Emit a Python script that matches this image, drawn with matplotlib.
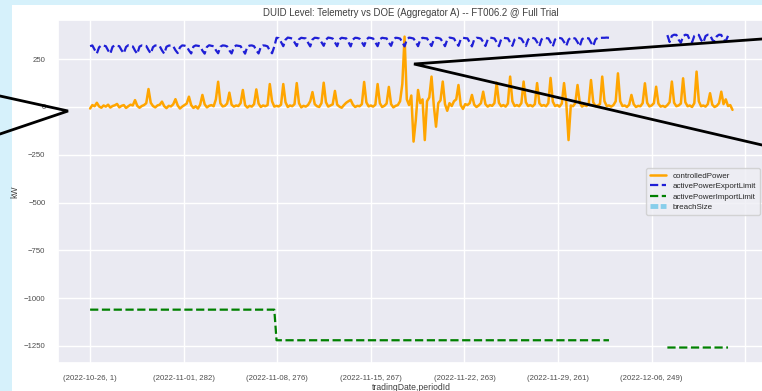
import numpy as np
import matplotlib
matplotlib.use("Agg")
import matplotlib.pyplot as plt
import seaborn as sns
from matplotlib.lines import Line2D
from matplotlib.patches import Rectangle

# one sample every 48 five-minute periods (4 hours)
periods_per_sample = 48

power_kw = [
    -8, 10, 4, 22, 3, -4, 8, 2, 12, -3, 5, 9,
    16, -2, 6, 10, -5, 4, 12, 8, 36, 6, -4, 5,
    10, 20, 94, 22, 5, -2, 8, 12, 28, 4, -6, 6,
    3, 14, 41, 8, -8, 2, 10, 18, 54, 10, -5, 4,
    -8, 12, 63, 14, -2, 6, 10, 4, 40, 132, 20, 3,
    6, 18, 75, 12, 2, 8, 5, 20, 89, 10, -3, 6,
    2, 15, 92, 18, 0, 8, 4, 10, 120, 30, 2, 6,
    3, 12, 120, 25, 0, 8, 4, 15, 125, 20, -2, 6,
    2, 10, 30, 78, 15, 4, 0, 20, 127, 25, 2, 8,
    14, 84, 12, 2, -4, 10, 22, 30, 37, 12, 0, 6,
    4, 15, 131, 24, 3, 8, 2, 12, 120, 20, 0, 6,
    18, 105, 15, -2, 6, 10, 30, 120, 368, 40, 10, 60,
    -181, -68, 89, 20, 40, -173, 30, 50, 159, 10, -103, 20,
    35, 133, 15, -20, 20, 5, 30, 40, 115, 10, -10, 15,
    10, 20, 63, 12, 0, 8, 20, 80, 15, 2, 10, 6,
    20, 127, 22, 4, 10, 2, 18, 159, 30, 5, 10, 4,
    20, 133, 25, 5, 10, 3, 15, 125, 20, 6, 10, 4,
    20, 152, 28, 5, 10, 2, 18, 125, 20, -173, 8, 4,
    20, 115, 22, 2, 10, 5, 18, 141, 25, 4, 8, 15,
    159, 30, 5, 8, 2, 10, 30, 176, 30, 5, 8, 0,
    12, 63, 15, 0, 6, 4, 20, 124, 22, 3, 8, 20,
    106, 18, 2, 6, 0, 10, 25, 133, 22, 4, 8, 18,
    150, 25, 4, 8, 0, 20, 185, 30, 4, 8, 2, 15,
    72, 12, 0, 6, 20, 80, 15, 40, 5, 10, -15,
]

nan = np.nan
export_kw = [
    318, 322, 300, 280, 312, 322, 321, 318, 296, 279, 315, 322,
    320, 318, 297, 281, 314, 323, 321, 317, 295, 278, 316, 322,
    320, 319, 298, 280, 313, 322, 320, 318, 296, 279, 315, 321,
    322, 318, 297, 282, 312, 322, 321, 317, 296, 280, 316, 322,
    320, 318, 295, 279, 314, 323, 320, 318, 297, 281, 315, 322,
    321, 317, 296, 280, 313, 322, 320, 318, 298, 279, 316, 321,
    322, 318, 296, 280, 314, 322, 321, 317, 295, 281, 316,
    362, 360, 340, 318, 352, 363, 361, 358, 338, 319, 354, 362,
    360, 359, 337, 317, 353, 362, 361, 358, 339, 320, 352, 363,
    361, 358, 338, 318, 354, 362, 360, 359, 340, 317, 353, 362,
    361, 357, 339, 319, 352, 363, 361, 358, 338, 318, 354, 362,
    360, 359, 337, 320, 353, 362, 361, 358, 339, 317, 352, 363,
    361, 358, 340, 318, 354, 362, 360, 359, 338, 319, 353, 362,
    361, 357, 339, 318, 352, 363, 361, 358, 337, 320, 354, 362,
    360, 359, 338, 317, 353, 362, 361, 358, 340, 319, 352, 363,
    361, 358, 339, 318, 354, 362, 360, 359, 338, 320, 353, 362,
    361, 357, 337, 319, 352, 363, 361, 358, 339, 318, 354, 362,
    360, 359, 338, 317, 353, 362, 361, 358, 340, 320, 352, 363,
    361, 358, 339, 318, 354, 362, 360, 359, 337, 319, 353, 362,
    361, 362, 362, 363, 362,
] + [nan] * 25 + [
    376, 340, 372, 378, 377, 352, 336, 370, 378, 376, 350, 338,
    372, 378, 377, 351, 337, 371, 378, 376, 352, 339, 370, 378,
    377, 350, 345, 372, nan, nan,
]

# import limit is a step series: level per block of samples
import_levels = [-1060, -1220, nan, -1258, nan]
import_lengths = [83, 149, 25, 28, 2]

breach_kw = [nan] * len(power_kw)

tick_periods = [0, 2000, 4000, 6000, 8000, 10000, 12000, 14000]
tick_labels = [
    "(2022-10-26, 1)", "(2022-11-01, 282)", "(2022-11-08, 276)",
    "(2022-11-15, 267)", "(2022-11-22, 263)", "(2022-11-29, 261)",
    "(2022-12-06, 249)", "",
]

import_kw = np.repeat(import_levels, import_lengths)
x = np.arange(len(power_kw)) * periods_per_sample

sns.set_theme(style="darkgrid")
plt.rcParams["font.family"] = ["Liberation Sans", "DejaVu Sans"]

W, H = 762, 391
fig = plt.figure(figsize=(W / 100, H / 100), dpi=100, facecolor="#d6f1fb")
fig.add_artist(Rectangle((12 / W, 0), 1, 1 - 5 / H, transform=fig.transFigure,
                         facecolor="white", edgecolor="none", zorder=0))
ax = fig.add_axes([58 / W, 1 - 363 / H, (764 - 58) / W, 343 / H])

ax.plot(x, power_kw, color="orange", lw=1.8, label="controlledPower")
ax.plot(x, export_kw, color="#1f1fd6", lw=1.6, ls="--", label="activePowerExportLimit")
ax.plot(x, import_kw, color="green", lw=1.6, ls="--", label="activePowerImportLimit")
ax.plot(x, breach_kw, color="skyblue", lw=3.5, ls=(0, (1.6, 0.5)), label="breachSize")

ax.set_xlim(-686, 14401)
ax.set_ylim(-1339, 455)
ax.set_yticks([250, 0, -250, -500, -750, -1000, -1250])
ax.set_xticks(tick_periods)
ax.set_xticklabels(tick_labels)
ax.tick_params(labelsize=5.6, colors="0.3", pad=3)

ax.set_title("DUID Level: Telemetry vs DOE (Aggregator A) -- FT006.2 @ Full Trial",
             fontsize=6.9, color="0.25", pad=3)
ax.set_xlabel("tradingDate,periodId", fontsize=6.2, color="0.25", labelpad=0)
ax.set_ylabel("kW", fontsize=6.2, color="0.25", labelpad=3)

ax.legend(loc="center right", fontsize=5.8, handlelength=2.0,
          labelspacing=0.35, borderpad=0.5, facecolor="#eeeef4", edgecolor="0.8")

# black callout lines on top of the slide
for pts in ([(0, 96), (68, 111), (0, 134)], [(762, 39), (414, 64), (762, 145)]):
    xs = [p[0] / W for p in pts]
    ys = [1 - p[1] / H for p in pts]
    fig.add_artist(Line2D(xs, ys, transform=fig.transFigure, color="black",
                          lw=2, solid_joinstyle="miter"))

fig.savefig("out.png", dpi=100, facecolor=fig.get_facecolor())
